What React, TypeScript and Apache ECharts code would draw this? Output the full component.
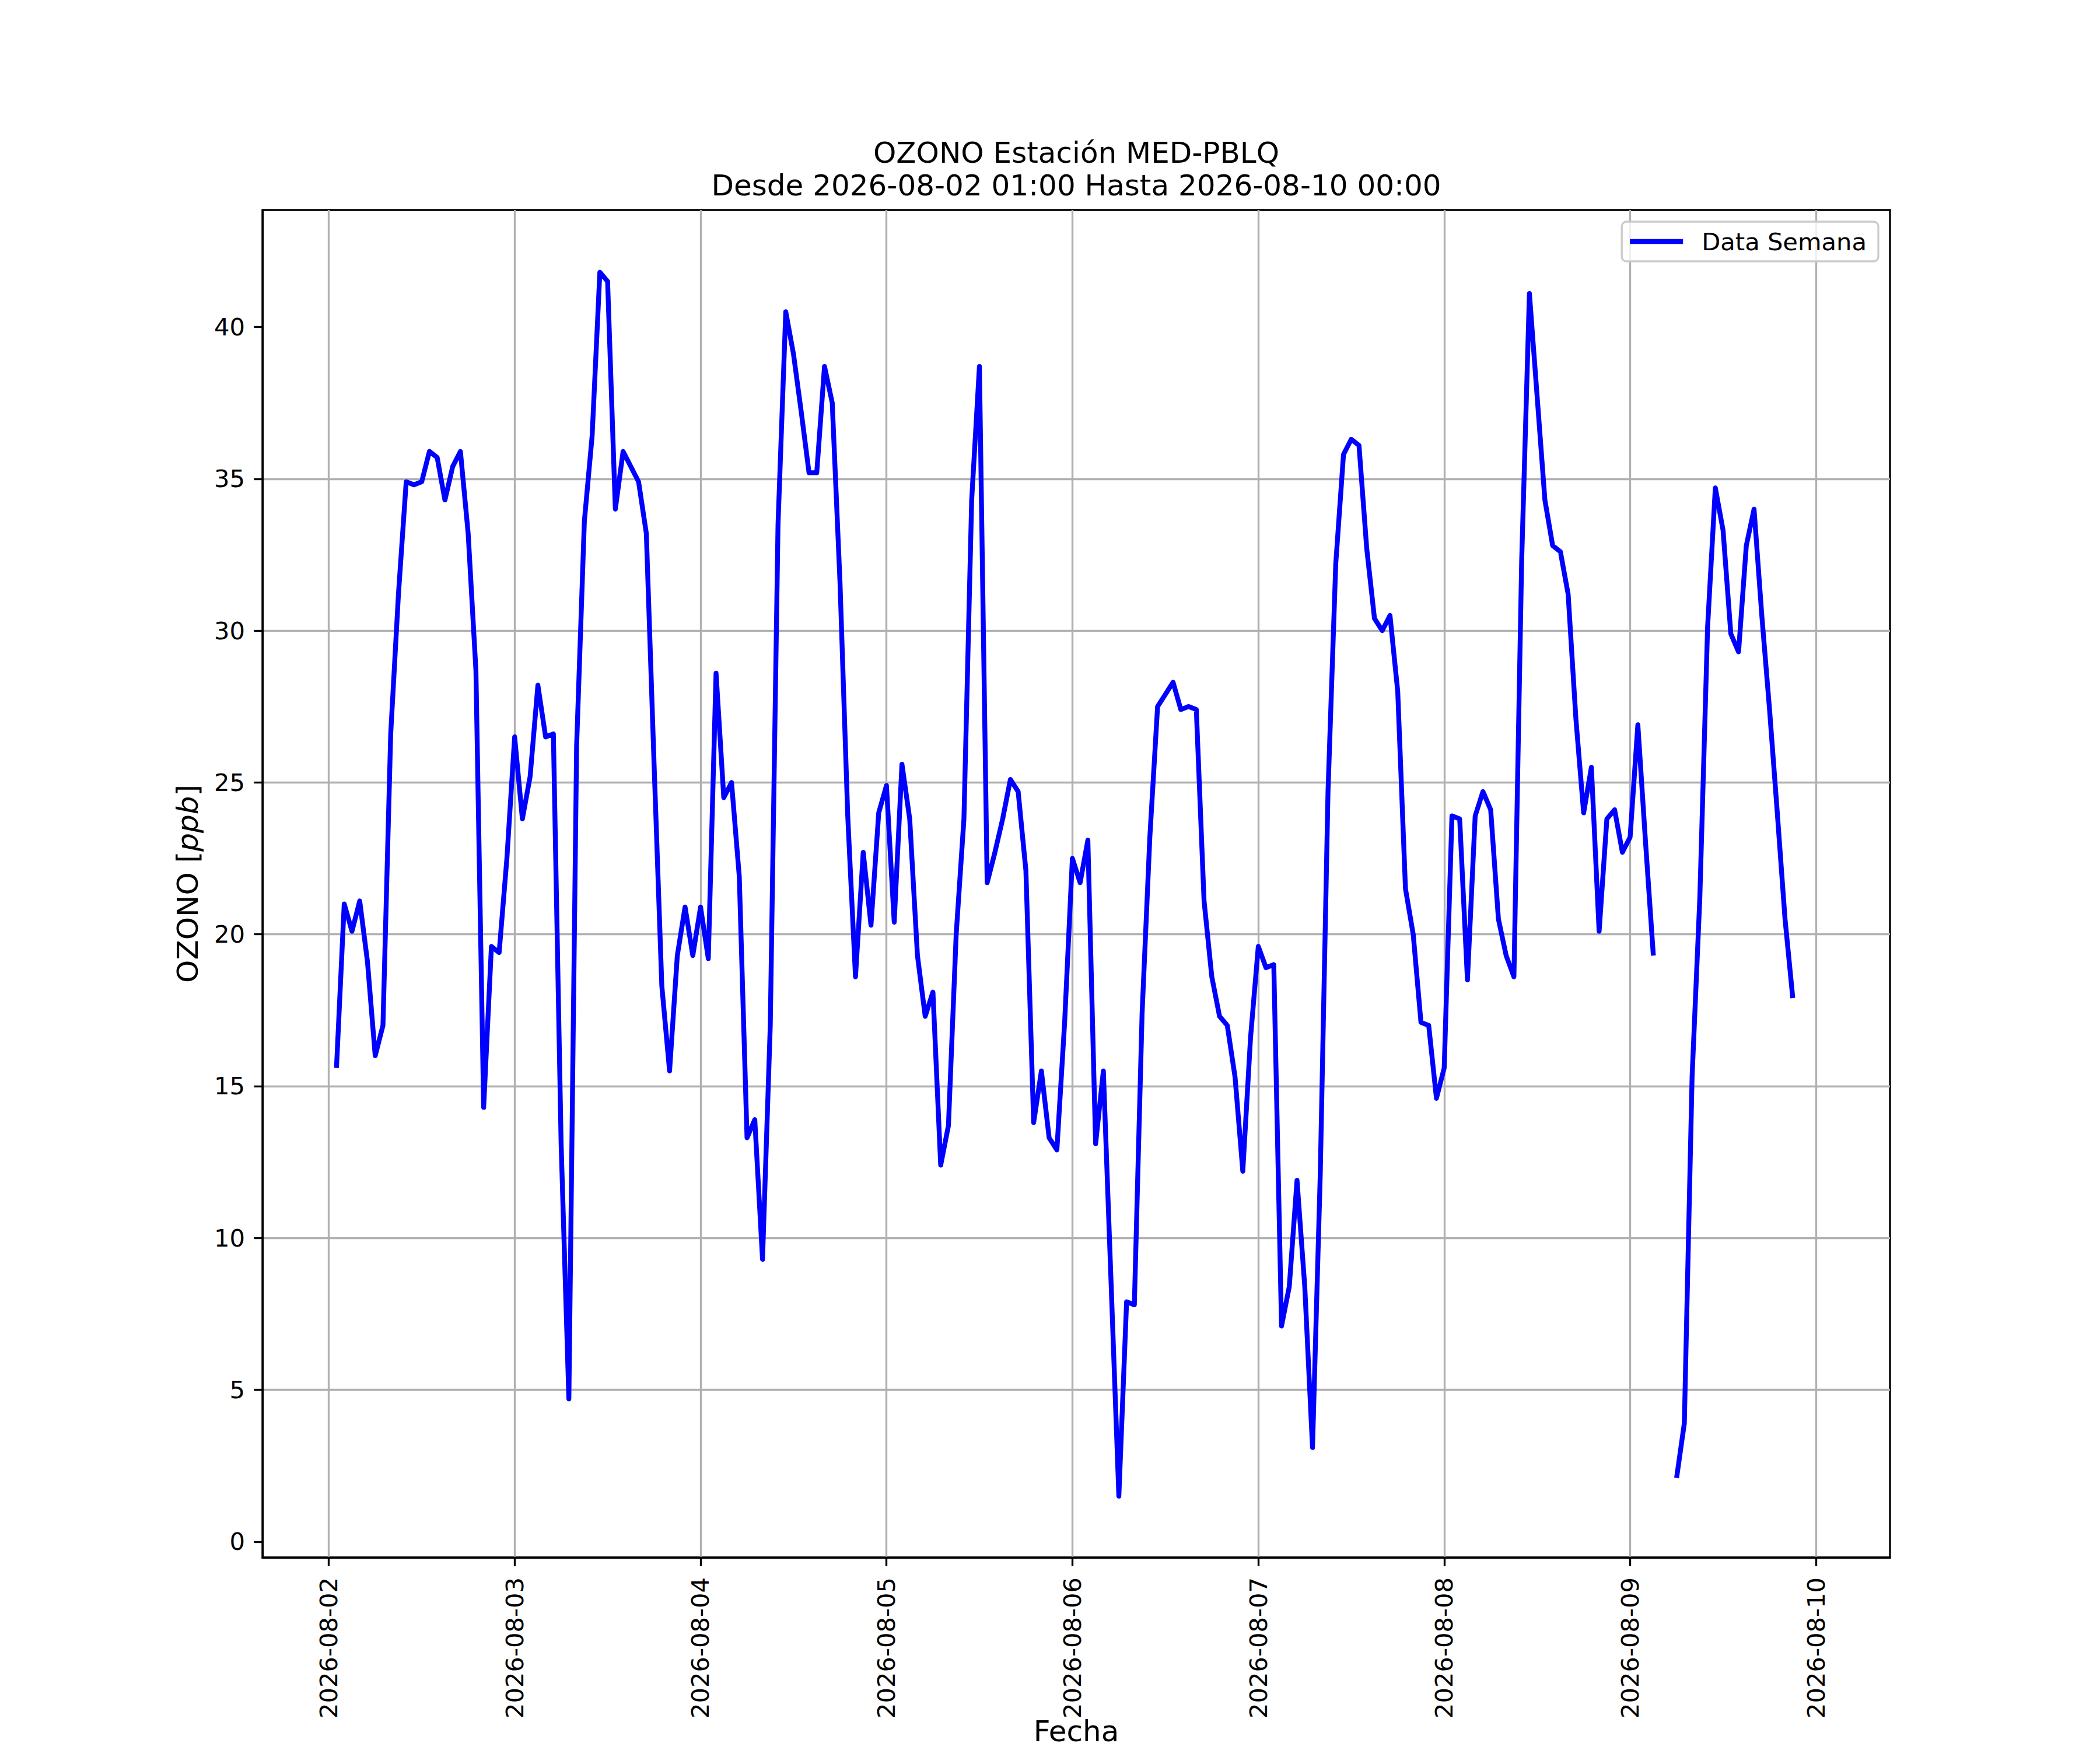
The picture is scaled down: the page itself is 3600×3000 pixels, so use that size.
import React, { useEffect, useRef } from "react";
import * as echarts from "echarts";

// Hourly OZONO values (ppb), one array per day
const d0802 = [15.6, 21.0, 20.1, 21.1, 19.1, 16.0, 17.0, 26.6, 31.2, 34.9, 34.8, 34.9, 35.9, 35.7, 34.3, 35.4, 35.9, 33.2, 28.7, 14.3, 19.6, 19.4, 22.5]; // from 01:00
const d0803 = [26.5, 23.8, 25.2, 28.2, 26.5, 26.6, 13.1, 4.7, 26.2, 33.6, 36.4, 41.8, 41.5, 34.0, 35.9, 35.4, 34.9, 33.2, 25.6, 18.3, 15.5, 19.3, 20.9, 19.3];
const d0804 = [20.9, 19.2, 28.6, 24.5, 25.0, 21.9, 13.3, 13.9, 9.3, 17.0, 33.5, 40.5, 39.1, 37.2, 35.2, 35.2, 38.7, 37.5, 31.6, 23.9, 18.6, 22.7, 20.3, 24.0];
const d0805 = [24.9, 20.4, 25.6, 23.8, 19.3, 17.3, 18.1, 12.4, 13.7, 20.0, 23.8, 34.3, 38.7, 21.7, 22.7, 23.8, 25.1, 24.7, 22.1, 13.8, 15.5, 13.3, 12.9, 17.1];
const d0806 = [22.5, 21.7, 23.1, 13.1, 15.5, 8.5, 1.5, 7.9, 7.8, 17.4, 23.2, 27.5, 27.9, 28.3, 27.4, 27.5, 27.4, 21.1, 18.6, 17.3, 17.0, 15.3, 12.2, 16.6];
const d0807 = [19.6, 18.9, 19.0, 7.1, 8.4, 11.9, 8.4, 3.1, 12.1, 24.7, 32.2, 35.8, 36.3, 36.1, 32.7, 30.4, 30.0, 30.5, 28.0, 21.5, 20.0, 17.1, 17.0, 14.6];
const d0808 = [15.6, 23.9, 23.8, 18.5, 23.9, 24.7, 24.1, 20.5, 19.3, 18.6, 32.3, 41.1, 37.7, 34.3, 32.8, 32.6, 31.2, 27.1, 24.0, 25.5, 20.1, 23.8, 24.1, 22.7];
const d0809 = [23.2, 26.9, 23.0, 19.3, null, null, 2.1, 3.9, 15.3, 21.2, 30.1, 34.7, 33.3, 29.9, 29.3, 32.8, 34.0, 30.5, 27.4, 24.0, 20.5, 17.9, null, null];
const d0810 = [null]; // 00:00

const titleLines = ["OZONO Estación MED-PBLQ", "Desde 2026-08-02 01:00 Hasta 2026-08-10 00:00"];
const seriesName = "Data Semana";
const xAxisName = "Fecha";
const yTickValues = [0, 5, 10, 15, 20, 25, 30, 35, 40];

const HOUR = 3600 * 1000;
const DAY = 24 * HOUR;
const firstTime = Date.UTC(2026, 7, 2, 1, 0, 0);
const xMin = Date.UTC(2026, 7, 1, 15, 27, 0);
const xMax = Date.UTC(2026, 7, 10, 9, 33, 0);
const yMin = -0.52;
const yMax = 43.85;

const FONT = "DejaVu Sans";

function pad2(n: number) {
  return n < 10 ? "0" + n : String(n);
}

export default function App() {
  const ref = useRef<HTMLDivElement>(null);

  useEffect(() => {
    document.body.style.margin = "0";
    if (!ref.current) return;
    const chart = echarts.init(ref.current, undefined, { renderer: "svg" });

    const values = ([] as (number | null)[]).concat(d0802, d0803, d0804, d0805, d0806, d0807, d0808, d0809, d0810);
    const data = values.map((v, i) => [firstTime + i * HOUR, v]);

    const option: any = {
      animation: false,
      useUTC: true,
      backgroundColor: "#ffffff",
      textStyle: { fontFamily: FONT },
      grid: {
        left: 450,
        top: 360,
        width: 2790,
        height: 2310,
        show: true,
        borderColor: "#000000",
        borderWidth: 3.33,
        backgroundColor: "transparent",
        containLabel: false,
      },
      legend: {
        data: [seriesName],
        right: 380,
        top: 380,
        icon: "rect",
        itemWidth: 91,
        itemHeight: 8.33,
        backgroundColor: "rgba(255,255,255,0.8)",
        borderColor: "#cccccc",
        borderWidth: 3.33,
        borderRadius: 8,
        padding: [13, 20, 13, 14],
        textStyle: {
          fontFamily: FONT,
          fontSize: 41.67,
          color: "#000000",
          padding: [0, 0, 0, 27],
        },
      },
      xAxis: {
        type: "time",
        min: xMin,
        max: xMax,
        minInterval: DAY,
        maxInterval: DAY,
        axisLine: { show: true, onZero: false, lineStyle: { color: "#000000", width: 3.33 } },
        axisTick: { show: true, inside: false, length: 14.6, lineStyle: { color: "#000000", width: 3.33 } },
        splitLine: { show: true, showMinLine: false, showMaxLine: false, lineStyle: { color: "#b0b0b0", width: 3.33 } },
        axisLabel: {
          rotate: 90,
          margin: 34,
          fontSize: 41.67,
          fontFamily: FONT,
          color: "#000000",
          hideOverlap: false,
          formatter: (val: number) => {
            const d = new Date(val);
            if (d.getUTCHours() === 0 && d.getUTCMinutes() === 0) {
              return d.getUTCFullYear() + "-" + pad2(d.getUTCMonth() + 1) + "-" + pad2(d.getUTCDate());
            }
            return "";
          },
        },
      },
      yAxis: {
        type: "value",
        min: yMin,
        max: yMax,
        minInterval: 5,
        maxInterval: 5,
        axisLine: { show: true, lineStyle: { color: "#000000", width: 3.33 } },
        axisTick: {
          show: true,
          inside: false,
          length: 14.6,
          customValues: yTickValues,
          lineStyle: { color: "#000000", width: 3.33 },
        },
        splitLine: { show: true, showMinLine: false, showMaxLine: false, lineStyle: { color: "#b0b0b0", width: 3.33 } },
        axisLabel: {
          margin: 30,
          fontSize: 41.67,
          fontFamily: FONT,
          color: "#000000",
          customValues: yTickValues,
          formatter: (v: number) => String(Math.round(v)),
        },
      },
      series: [
        {
          name: seriesName,
          type: "line",
          data: data,
          showSymbol: false,
          symbol: "none",
          connectNulls: false,
          lineStyle: { color: "#0000ff", width: 8.33, join: "round", cap: "butt" },
          itemStyle: { color: "#0000ff" },
          z: 5,
        },
      ],
      graphic: [
        {
          type: "text",
          x: 1845,
          y: 262,
          style: {
            text: titleLines[0],
            fontFamily: FONT,
            fontSize: 50,
            fill: "#000000",
            textAlign: "center",
            textVerticalAlign: "middle",
          },
        },
        {
          type: "text",
          x: 1845,
          y: 318,
          style: {
            text: titleLines[1],
            fontFamily: FONT,
            fontSize: 50,
            fill: "#000000",
            textAlign: "center",
            textVerticalAlign: "middle",
          },
        },
        {
          type: "text",
          x: 322,
          y: 1515,
          rotation: Math.PI / 2,
          style: {
            text: "OZONO [{i|ppb}]",
            fontFamily: FONT,
            fontSize: 50,
            fill: "#000000",
            textAlign: "center",
            textVerticalAlign: "middle",
            rich: {
              i: { fontFamily: FONT, fontSize: 50, fontStyle: "italic", fill: "#000000" },
            },
          },
        },
        {
          type: "text",
          x: 1845,
          y: 2968,
          style: {
            text: xAxisName,
            fontFamily: FONT,
            fontSize: 50,
            fill: "#000000",
            textAlign: "center",
            textVerticalAlign: "middle",
          },
        },
      ],
    };

    chart.setOption(option);
    return () => {
      chart.dispose();
    };
  }, []);

  return <div ref={ref} style={{ width: 3600, height: 3000 }} />;
}
